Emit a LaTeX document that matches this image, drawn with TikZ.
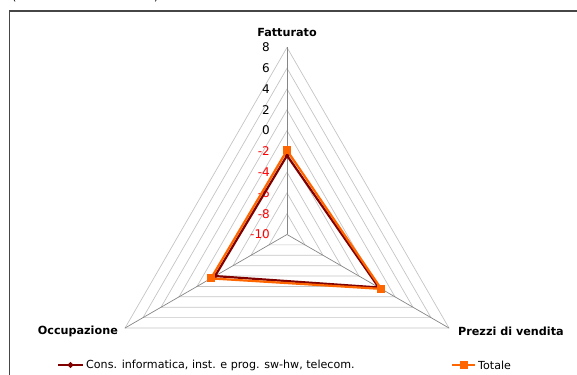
\documentclass[tikz,border=0pt]{standalone}
\usepackage{fontspec}
\setmainfont{DejaVu Sans}
\usetikzlibrary{shapes.geometric}

\definecolor{rossoscuro}{RGB}{128,0,0}
\definecolor{arancio}{RGB}{255,102,0}
\definecolor{griglia}{RGB}{196,196,196}
\definecolor{grigioasse}{RGB}{134,134,134}
\definecolor{cornice}{RGB}{70,70,70}

\tikzset{
  anello/.style={draw=griglia,line width=0.7pt},
  asse/.style={draw=grigioasse,line width=0.7pt},
  nomeasse/.style={font=\bfseries\fontsize{11.2}{13}\selectfont,inner sep=0pt},
  tacca/.style={font=\fontsize{12}{13}\selectfont,anchor=east,inner sep=0pt},
  voce/.style={font=\fontsize{11.1}{13}\selectfont,anchor=west,inner sep=0pt},
  lineacons/.style={draw=rossoscuro,line width=2.2pt,line join=round},
  lineatot/.style={draw=arancio,line width=2.2pt,line join=round},
  rombo/.style={diamond,fill=rossoscuro,inner sep=0pt,minimum size=6.5pt},
  quadro/.style={rectangle,fill=arancio,inner sep=0pt,minimum size=8pt}
}

\begin{document}
\begin{tikzpicture}[x=1pt,y=1pt]
\useasboundingbox (0,0) rectangle (577,374);
\def\unita{10.39}

% cornice del grafico
\draw[cornice,line width=1.3pt] (9.5,-20) -- (9.5,363) -- (600,363);
\node[anchor=base west,inner sep=0pt,font=\fontsize{11}{12}\selectfont] (parA) at (12,373) {(};
\node[anchor=base east,inner sep=0pt,font=\fontsize{11}{12}\selectfont] (parB) at (158.5,373) {)};

\begin{scope}[shift={(287,139.5)}]
% griglia
\foreach \v in {1,...,9}
  \draw[anello] (90:{2*\v*\unita}) -- (210:{2*\v*\unita}) -- (330:{2*\v*\unita}) -- cycle;
\coordinate (centro) at (0,0);
\coordinate (fatt) at (90:{18*\unita});
\coordinate (occ) at (210:{18*\unita});
\coordinate (prez) at (330:{18*\unita});
\draw[asse] (centro) -- (fatt);
\draw[asse] (centro) -- (occ);
\draw[asse] (centro) -- (prez);

% valori sull'asse
\foreach \v in {-10,-8,...,-2}
  \node[tacca,text=red] (t\v) at (-17,{(\v+10)*\unita}) {\v};
\foreach \v in {0,2,...,8}
  \node[tacca] (t\v) at (-17,{(\v+10)*\unita}) {\v};

\node[nomeasse,anchor=south] (lfatt) at ([yshift=11pt]fatt) {Fatturato};
\node[nomeasse,anchor=east] (locc) at ([xshift=-7pt,yshift=-3pt]occ) {Occupazione};
\node[nomeasse,anchor=west] (lprez) at ([xshift=9pt,yshift=-3pt]prez) {Prezzi di vendita};

% serie
\coordinate (a1) at (90:{7.6*\unita});
\coordinate (a2) at (210:{8.0*\unita});
\coordinate (a3) at (330:{10.2*\unita});
\coordinate (b1) at (90:{8.1*\unita});
\coordinate (b2) at (210:{8.45*\unita});
\coordinate (b3) at (330:{10.47*\unita});
\draw[lineacons] (a1) -- (a2) -- (a3) -- cycle;
\foreach \p in {a1,a2,a3} \node[rombo] at (\p) {};
\draw[lineatot] (b1) -- (b2) -- (b3) -- cycle;
\foreach \p in {b1,b2,b3} \node[quadro] at (\p) {};
\end{scope}

% legenda
\coordinate (la1) at (58,9);
\coordinate (la2) at (83,9);
\draw[draw=rossoscuro,line width=2pt] (la1) -- (la2);
\node[rombo] (ma) at (70.5,9) {};
\node[voce] (va) at (86,9) {Cons. informatica, inst. e prog. sw-hw, telecom.};
\coordinate (lb1) at (452,9);
\coordinate (lb2) at (475,9);
\draw[draw=arancio,line width=2pt] (lb1) -- (lb2);
\node[quadro] (mb) at (463.5,9) {};
\node[voce] (vb) at (478,9) {Totale};
\end{tikzpicture}
\end{document}
